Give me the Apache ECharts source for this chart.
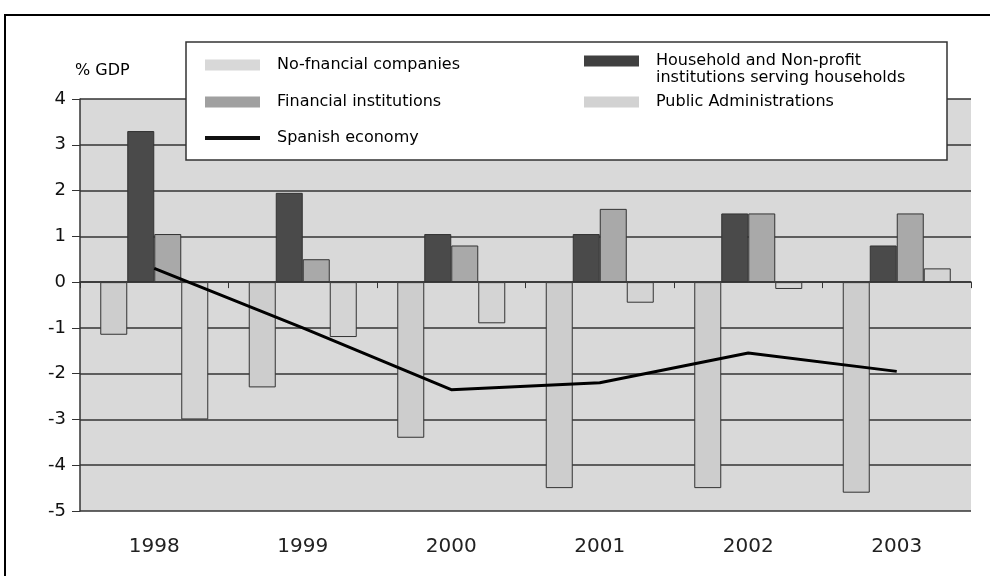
<!DOCTYPE html>
<html>
<head>
<meta charset="utf-8">
<script src="https://cdn.jsdelivr.net/npm/echarts@6/dist/echarts.min.js"></script>
<style>
html,body{margin:0;padding:0;background:#fff;}
#chart{width:990px;height:576px;}
</style>
</head>
<body>
<div id="chart"></div>
<script>
var years = ['1998','1999','2000','2001','2002','2003'];
var nonFinancial = [-1.15, -2.3, -3.4, -4.5, -4.5, -4.6];
var household = [3.3, 1.95, 1.05, 1.05, 1.5, 0.8];
var financial = [1.05, 0.5, 0.8, 1.6, 1.5, 1.5];
var publicAdmin = [-3.0, -1.2, -0.9, -0.45, -0.15, 0.3];
var spanish = [0.3, -1.0, -2.35, -2.2, -1.55, -1.95];
var yTicks = [-5,-4,-3,-2,-1,0,1,2,3,4];

var FONT = 'DejaVu Sans';
var chart = echarts.init(document.getElementById('chart'));

function legendItem(name, left, top, extra) {
  var o = {
    data: [name],
    left: left, top: top,
    padding: 0,
    icon: 'rect',
    itemWidth: 55, itemHeight: 11,
    itemGap: 0,
    selectedMode: false,
    z: 20,
    itemStyle: {borderWidth: 0},
    textStyle: {fontFamily: FONT, fontSize: 16, color: '#000', padding: [0,0,0,12]}
  };
  if (extra) { for (var k in extra) o[k] = extra[k]; }
  return o;
}

var barBorder = {borderColor: '#333', borderWidth: 1};

var option = {
  backgroundColor: '#fff',
  animation: false,
  grid: {left: 80, right: 19, top: 99, bottom: 65, show: true, backgroundColor: '#d9d9d9', borderWidth: 0},
  legend: [
    legendItem('No-fnancial companies', 205, 57, {itemStyle: {borderWidth: 0, color: '#d8d8d8'}}),
    legendItem('Financial institutions', 205, 94, {itemStyle: {borderWidth: 0, color: '#a0a0a0'}}),
    legendItem('Spanish economy', 205, 130, {itemHeight: 4, itemStyle: {borderWidth: 0, color: '#111'}, lineStyle: {width: 0}}),
    legendItem('Household and Non-profit institutions serving households', 584, 53, {
      formatter: function(){ return 'Household and Non-profit'; },
      itemStyle: {borderWidth: 0, color: '#404040'}
    }),
    legendItem('Public Administrations', 584, 94, {itemStyle: {borderWidth: 0, color: '#d2d2d2'}})
  ],
  xAxis: [
    {
      type: 'category', data: years, position: 'bottom',
      axisLine: {show: false, onZero: false}, axisTick: {show: false},
      axisLabel: {fontFamily: FONT, fontSize: 20, color: '#222', margin: 26},
      splitLine: {show: false}
    },
    {
      type: 'category', data: years, position: 'bottom',
      axisLine: {show: true, onZero: true, onZeroAxisIndex: 0, lineStyle: {color: '#333', width: 1.5}},
      axisTick: {show: true, length: 6, lineStyle: {color: '#333'}},
      axisLabel: {show: false},
      splitLine: {show: false}
    }
  ],
  yAxis: {
    type: 'value', min: -5, max: 4, interval: 1,
    axisLine: {show: true, lineStyle: {color: '#333', width: 1.5}},
    axisTick: {show: true, length: 8, lineStyle: {color: '#333'}},
    axisLabel: {fontFamily: FONT, fontSize: 18, color: '#111', margin: 14,
      formatter: function(v){ return yTicks.indexOf(v) >= 0 ? String(v) : ''; }},
    splitLine: {show: true, lineStyle: {color: '#333', width: 1.5}}
  },
  graphic: [
    {type: 'rect', shape: {x: 5, y: 15, width: 1000, height: 600}, style: {fill: 'none', stroke: '#000', lineWidth: 2}, z: 30, silent: true},
    {type: 'rect', shape: {x: 186, y: 42, width: 761, height: 118}, style: {fill: '#fff', stroke: '#333', lineWidth: 1.5}, z: 15, silent: true},
    {type: 'text', left: 75, top: 63, style: {text: '% GDP', fontFamily: FONT, fontSize: 16, fill: '#000'}, z: 16},
    {type: 'text', left: 656, top: 70, style: {text: 'institutions serving households', fontFamily: FONT, fontSize: 16, fill: '#000'}, z: 21}
  ],
  series: [
    {name: 'No-fnancial companies', type: 'bar', data: nonFinancial, barWidth: 27, barGap: '0%',
      itemStyle: Object.assign({color: '#cdcdcd'}, barBorder)},
    {name: 'Household and Non-profit institutions serving households', type: 'bar', data: household, barWidth: 27, barGap: '0%',
      itemStyle: Object.assign({color: '#4a4a4a'}, barBorder)},
    {name: 'Financial institutions', type: 'bar', data: financial, barWidth: 27, barGap: '0%',
      itemStyle: Object.assign({color: '#a9a9a9'}, barBorder)},
    {name: 'Public Administrations', type: 'bar', data: publicAdmin, barWidth: 27, barGap: '0%',
      itemStyle: Object.assign({color: '#d4d4d4'}, barBorder)},
    {name: 'Spanish economy', type: 'line', data: spanish, symbol: 'none', z: 5,
      lineStyle: {color: '#000', width: 3}, itemStyle: {color: '#000'}}
  ]
};
chart.setOption(option);
</script>
</body>
</html>
